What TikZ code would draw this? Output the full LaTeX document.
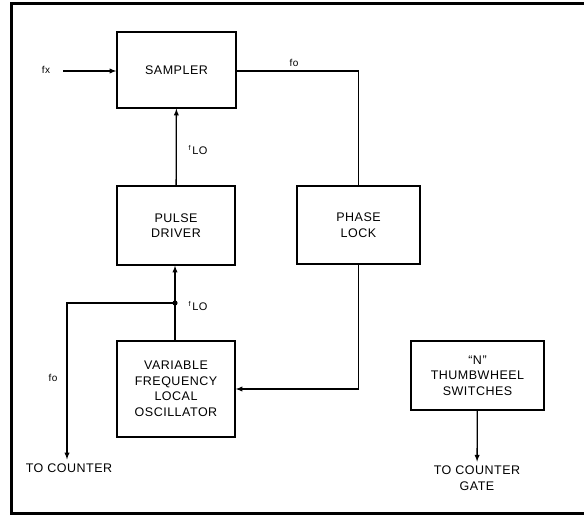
\documentclass[tikz,border=0pt]{standalone}
\usepackage{fontspec}
\setmainfont[LetterSpace=4]{Liberation Sans}
\usetikzlibrary{positioning}

\tikzstyle{block}=[
    draw,
    line width=1.3pt,
    align=center,
    inner sep=0pt,
    font=\fontsize{12.5}{15.5}\selectfont,
  ]
\tikzstyle{sig}=[
    -latex,
    line width=1.3pt,
  ]
\tikzstyle{lbl}=[
    inner sep=1pt,
    font=\fontsize{12.5}{15.5}\selectfont,
    align=center,
  ]
\tikzstyle{small}=[
    inner sep=1pt,
    font=\fontsize{10}{12}\selectfont,
  ]
\newcommand{\flo}{\raisebox{4pt}{\fontsize{7}{8}\selectfont f}\,LO}

\begin{document}
\begin{tikzpicture}[x=1pt, y=-1pt]
      \useasboundingbox (0,0) rectangle (584,516);
      \draw[line width=3pt] (584,4) -- (11,4) -- (11,513) -- (584,513);
      \node[block, minimum width=119pt, minimum height=76pt] (sampler) at (176.5,70) {SAMPLER};
      \node[block, minimum width=118pt, minimum height=79pt] (pulse) at (176,225.5) {PULSE\\DRIVER};
      \node[block, minimum width=123pt, minimum height=78pt] (phase) at (358.5,225) {PHASE\\LOCK};
      \node[block, minimum width=118pt, minimum height=96pt] (vflo) at (176,389) {VARIABLE\\FREQUENCY\\LOCAL\\OSCILLATOR};
      \node[block, minimum width=133pt, minimum height=69pt] (thumb) at (477.5,375.5) {“N”\\THUMBWHEEL\\SWITCHES};
      \node[small] (fx) at (46,70) {fx};
      \coordinate (fxin) at (63,71);
      \node[small] (fo1) at (294,63) {fo};
      \node[small] (fo2) at (53,378) {fo};
      \node[small, font=\fontsize{11}{13}\selectfont] (flo1) at (198,150) {\flo};
      \node[small, font=\fontsize{11}{13}\selectfont] (flo2) at (198,306) {\flo};
      \coordinate (tap) at (175,303);
      \node[lbl] (tocnt) at (69,468) {TO COUNTER};
      \node[lbl] (gate) at (477,478) {TO COUNTER\\GATE};
      \draw[sig] (fxin) -- (sampler.west |- fxin);
      \draw[line width=1.3pt] (sampler.east |- fxin) -| (phase.north);
      \draw[sig] (pulse) -- (sampler);
      \draw[sig] (vflo.north -| tap) -- (pulse.south -| tap);
      \fill (tap) circle (2.6pt);
      \draw[sig, shorten >=3pt] (tap) -| (tocnt.north -| 67,0);
      \draw[sig] (phase.south) |- (vflo.east);
      \draw[sig, shorten >=3pt] (thumb) -- (gate);
    \end{tikzpicture}
\end{document}
